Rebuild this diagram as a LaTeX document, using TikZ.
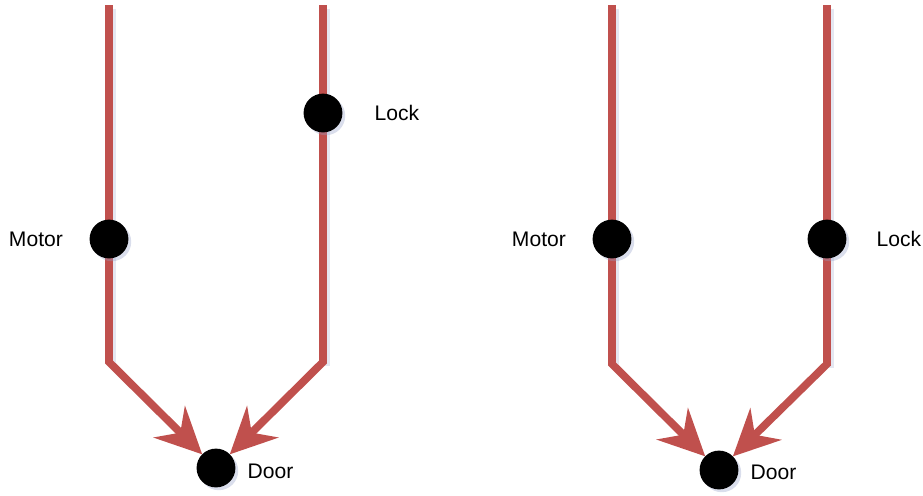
\documentclass[tikz,border=0pt]{standalone}
\usepackage{fontspec}
\setmainfont{Liberation Sans}
\usepackage{tikz}
\usetikzlibrary{arrows.meta,positioning,shadows}
\definecolor{wire}{RGB}{192,80,77}
\definecolor{shade}{RGB}{150,160,200}

\begin{document}
\begin{tikzpicture}[
    x=0.025cm, y=-0.025cm,
    dot/.style={draw=none, circle, fill=black, minimum size=0.97cm, inner sep=0pt,
        outer sep=0pt, drop shadow={shadow xshift=2pt, shadow yshift=-2pt,
        fill=shade, opacity=0.35}},
    lbl/.style={font=\fontsize{15}{18}\selectfont, inner sep=0pt},
    wirebase/.style={line width=5.5pt, line join=miter},
    wireshadow/.style={wirebase, draw=shade, opacity=0.25},
    arrow/.style={wirebase, draw=wire,
        -{Stealth[length=1.15cm, width=1.1cm, inset=0.38cm]}},
]
\useasboundingbox (0,0) rectangle (923,495);

% ===== LEFT: LOCK ABOVE MOTOR =====
\node[dot] (doorA) at (216,468) {};
\coordinate (mtopA) at (109,5);
\coordinate (mbendA) at (109,362);
\coordinate (ltopA) at (323,5);
\coordinate (lbendA) at (323,362);

\draw[wireshadow, transform canvas={xshift=2.5pt, yshift=-2.5pt}] (mtopA) -- (mbendA);
\draw[wireshadow, transform canvas={xshift=2.5pt, yshift=-2.5pt}] (ltopA) -- (lbendA);
\draw[arrow] (mtopA) -- (mbendA) -- (doorA);
\draw[arrow] (ltopA) -- (lbendA) -- (doorA);

\node[dot] (motorA) at (109,239) {};
\node[dot] (lockA)  at (323,113) {};

\node[lbl, left=0.66cm of motorA] (motorA_t) {Motor};
\node[lbl, right=0.8cm of lockA] (lockA_t) {Lock};
\node[lbl, right=0.3cm of doorA, yshift=-0.08cm] (doorA_t) {Door};

% ===== RIGHT: LOCK BESIDE MOTOR =====
\node[dot] (doorB) at (719,470) {};
\coordinate (mtopB) at (612,5);
\coordinate (mbendB) at (612,364);
\coordinate (ltopB) at (827,5);
\coordinate (lbendB) at (827,364);

\draw[wireshadow, transform canvas={xshift=2.5pt, yshift=-2.5pt}] (mtopB) -- (mbendB);
\draw[wireshadow, transform canvas={xshift=2.5pt, yshift=-2.5pt}] (ltopB) -- (lbendB);
\draw[arrow] (mtopB) -- (mbendB) -- (doorB);
\draw[arrow] (ltopB) -- (lbendB) -- (doorB);

\node[dot] (motorB) at (612,239) {};
\node[dot] (lockB)  at (827,239) {};

\node[lbl, left=0.66cm of motorB] (motorB_t) {Motor};
\node[lbl, right=0.75cm of lockB] (lockB_t) {Lock};
\node[lbl, right=0.3cm of doorB, yshift=-0.05cm] (doorB_t) {Door};

\end{tikzpicture}
\end{document}
